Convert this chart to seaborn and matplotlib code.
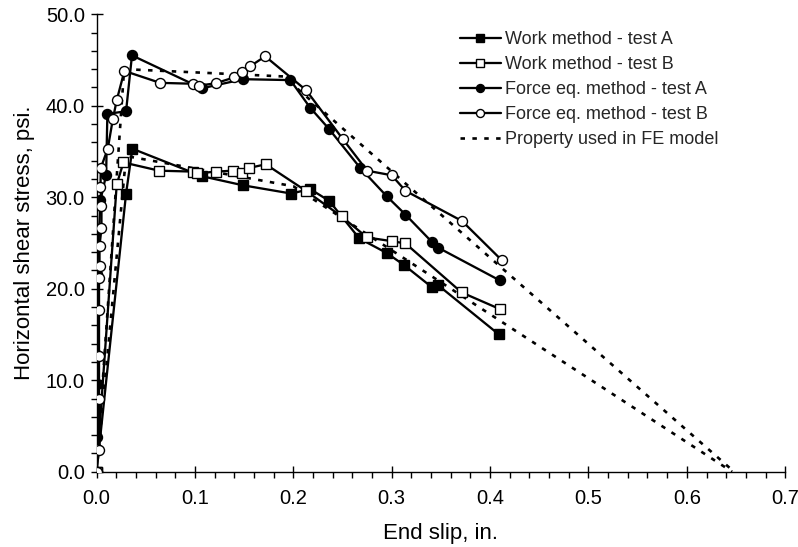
import numpy as np
import pandas as pd
import matplotlib
matplotlib.use("Agg")
import matplotlib.pyplot as plt
import seaborn as sns
from matplotlib.ticker import MultipleLocator, FormatStrFormatter

# ---- data ----
work_a_x = [0.0, 0.030, 0.0364, 0.107, 0.149, 0.198, 0.217, 0.2365, 0.267, 0.295, 0.313, 0.341, 0.347, 0.409]
work_a_y = [0.0, 30.4, 35.3, 32.3, 31.3, 30.4, 30.9, 29.6, 25.5, 23.9, 22.55, 20.15, 20.4, 15.0]

work_b_x = [0.0, 0.0205, 0.0273, 0.0636, 0.0985, 0.1026, 0.121, 0.139, 0.148, 0.155, 0.172, 0.2128, 0.249, 0.275, 0.300, 0.314, 0.371, 0.4105]
work_b_y = [0.0, 31.4, 33.8, 32.9, 32.8, 32.6, 32.8, 32.9, 32.7, 33.2, 33.6, 30.7, 27.9, 25.6, 25.2, 24.95, 19.6, 17.75]

force_a_x = [0.0, 0.0005, 0.0005, 0.0005, 0.0005, 0.004, 0.0097, 0.011, 0.030, 0.036, 0.107, 0.149, 0.197, 0.217, 0.236, 0.268, 0.295, 0.314, 0.341, 0.347, 0.410]
force_a_y = [0.0, 3.8, 9.6, 12.8, 21.6, 29.7, 32.4, 39.1, 39.4, 45.5, 41.9, 42.9, 42.8, 39.8, 37.5, 33.2, 30.1, 28.1, 25.1, 24.5, 20.9]

force_b_x = [0.0, 0.0, 0.0025, 0.0025, 0.0025, 0.0025, 0.0025, 0.003, 0.003, 0.005, 0.005, 0.004, 0.0043, 0.0114, 0.0165, 0.0205, 0.0283,
             0.0646, 0.0985, 0.104, 0.121, 0.140, 0.148, 0.156, 0.1714, 0.213, 0.250, 0.275, 0.300, 0.314, 0.3715, 0.412]
force_b_y = [0.0, 2.5, 2.4, 7.9, 12.7, 17.7, 21.2, 22.5, 24.7, 26.6, 29.0, 31.1, 33.2, 35.3, 38.5, 40.6, 43.8,
             42.5, 42.4, 42.2, 42.45, 43.1, 43.65, 44.3, 45.4, 41.7, 36.4, 32.9, 32.4, 30.7, 27.4, 23.1]

fe_upper_x = [0.0, 0.028, 0.19, 0.648]
fe_upper_y = [0.0, 44.0, 43.2, 0.0]
fe_lower_x = [0.0, 0.030, 0.20, 0.646]
fe_lower_y = [0.0, 34.5, 31.2, 0.0]

labels = ["Work method - test A", "Work method - test B",
          "Force eq. method - test A", "Force eq. method - test B",
          "Property used in FE model"]

sns.set_theme(style="white")
plt.rcParams['font.family'] = ['Liberation Sans', 'DejaVu Sans']

fig = plt.figure(figsize=(7.98, 5.47), dpi=100)
ax = fig.add_axes([0.121, 0.1376, 0.863, 0.8364])

dash = (0, (1.7, 2.8))
for xs, ys, lab in [(fe_upper_x, fe_upper_y, labels[4]), (fe_lower_x, fe_lower_y, None)]:
    sns.lineplot(x=xs, y=ys, ax=ax, sort=False, estimator=None, color="black",
                 lw=1.9, linestyle=dash, label=lab, legend=False, zorder=2)

series = [
    (work_a_x, work_a_y, labels[0], "s", "black"),
    (work_b_x, work_b_y, labels[1], "s", "white"),
    (force_a_x, force_a_y, labels[2], "o", "black"),
    (force_b_x, force_b_y, labels[3], "o", "white"),
]
for xs, ys, lab, mk, fc in series:
    df = pd.DataFrame({"x": xs, "y": ys})
    sns.lineplot(data=df, x="x", y="y", ax=ax, sort=False, estimator=None,
                 color="black", lw=1.65, marker=mk, markersize=7.2,
                 markerfacecolor=fc, markeredgecolor="black", markeredgewidth=1.0,
                 label=lab, legend=False, zorder=3)

ax.set_xlim(0, 0.7)
ax.set_ylim(0, 50)
ax.xaxis.set_major_locator(MultipleLocator(0.1))
ax.xaxis.set_minor_locator(MultipleLocator(0.02))
ax.yaxis.set_major_locator(MultipleLocator(10))
ax.yaxis.set_minor_locator(MultipleLocator(2))
ax.xaxis.set_major_formatter(FormatStrFormatter("%.1f"))
ax.yaxis.set_major_formatter(FormatStrFormatter("%.1f"))

for s in ["top", "right"]:
    ax.spines[s].set_visible(False)
for s in ["left", "bottom"]:
    ax.spines[s].set_color("black")
    ax.spines[s].set_linewidth(1.0)

ax.tick_params(axis="both", which="major", direction="inout", length=9, width=1.0,
               color="black", labelsize=14.5, labelcolor="black")
ax.tick_params(axis="x", which="major", pad=8)
ax.tick_params(axis="y", which="major", pad=4)
ax.tick_params(axis="both", which="minor", direction="out", length=4.5, width=1.0, color="black")
ax.tick_params(axis="x", which="both", bottom=True)
ax.tick_params(axis="y", which="both", left=True)

ax.set_xlabel("End slip, in.", fontsize=16, color="black", labelpad=11)
ax.set_ylabel("Horizontal shear stress, psi.", fontsize=16, color="black", labelpad=8)
ax.grid(False)

handles, labs = ax.get_legend_handles_labels()
order = [labs.index(l) for l in labels]
leg = ax.legend([handles[i] for i in order], [labs[i] for i in order],
                loc="upper left", bbox_to_anchor=(460.0 / 798, 1 - 31.0 / 547),
                bbox_transform=fig.transFigure, frameon=False,
                borderpad=0, borderaxespad=0,
                fontsize=13, handlelength=2.25, handletextpad=0.25,
                labelspacing=0.45, markerscale=0.8)

fig.savefig("out.png", dpi=100, facecolor="white")
